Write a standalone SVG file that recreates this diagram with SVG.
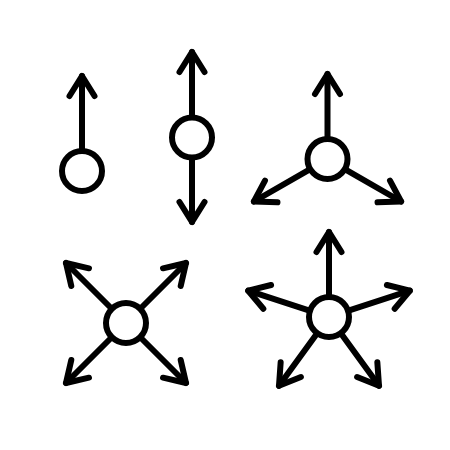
<svg xmlns="http://www.w3.org/2000/svg" width="450" height="450" viewBox="0 0 450 450">
<style>
.n circle{fill:#fff;stroke:#000;stroke-width:6}
.a{stroke:#000;stroke-width:6;stroke-linecap:round;fill:none;marker-end:url(#ah)}
</style>
<defs>
<marker id="ah" markerUnits="userSpaceOnUse" orient="auto" refX="0" refY="0" markerWidth="40" markerHeight="40" viewBox="-30 -20 40 40" overflow="visible">
<path d="M-20,-12.5 L0,0 L-20,12.5" fill="none" stroke="#000" stroke-width="6" stroke-linecap="round" stroke-linejoin="round"/>
</marker>
</defs>
<rect width="450" height="450" fill="#fff"/>
<g id="connectors">
<line class="a" x1="82" y1="150" x2="82" y2="76"/>
<line class="a" x1="192" y1="117" x2="192" y2="52"/>
<line class="a" x1="192" y1="158" x2="192" y2="222"/>
<line class="a" x1="327.5" y1="138.5" x2="327.5" y2="74"/>
<line class="a" x1="309.8" y1="169.3" x2="253.9" y2="201.5"/>
<line class="a" x1="345.2" y1="169.3" x2="401.1" y2="201.5"/>
<line class="a" x1="111.5" y1="308.5" x2="66" y2="263"/>
<line class="a" x1="140.5" y1="308.5" x2="186" y2="263"/>
<line class="a" x1="111.5" y1="337.5" x2="66" y2="383"/>
<line class="a" x1="140.5" y1="337.5" x2="186" y2="383"/>
<line class="a" x1="329" y1="296.5" x2="329" y2="232"/>
<line class="a" x1="348.5" y1="310.7" x2="409.8" y2="290.7"/>
<line class="a" x1="341" y1="333.6" x2="379" y2="385.8"/>
<line class="a" x1="317" y1="333.6" x2="279" y2="385.8"/>
<line class="a" x1="309.5" y1="310.7" x2="248.2" y2="290.7"/>
</g>
<g id="node1" class="n"><circle cx="82" cy="171" r="20"/></g>
<g id="node2" class="n"><circle cx="192" cy="137.5" r="20"/></g>
<g id="node3" class="n"><circle cx="327.5" cy="159" r="20"/></g>
<g id="node4" class="n"><circle cx="126" cy="323" r="20"/></g>
<g id="node5" class="n"><circle cx="329" cy="317" r="20"/></g>
</svg>
